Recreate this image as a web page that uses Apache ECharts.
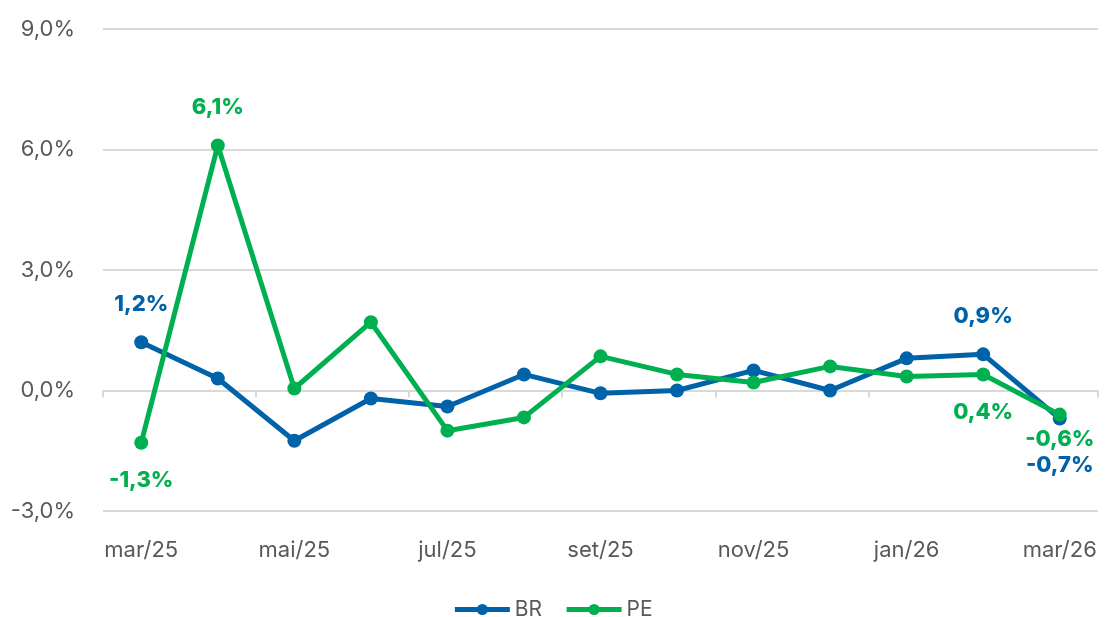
<!DOCTYPE html>
<html>
<head>
<meta charset="utf-8">
<script src="https://cdn.jsdelivr.net/npm/echarts@6/dist/echarts.min.js"></script>
<style>
  html, body { margin: 0; padding: 0; background: #fff; }
  #chart { width: 1105px; height: 617px; }
</style>
</head>
<body>
<div id="chart"></div>
<script>
var months = ['mar/25', 'abr/25', 'mai/25', 'jun/25', 'jul/25', 'ago/25', 'set/25',
    'out/25', 'nov/25', 'dez/25', 'jan/26', 'fev/26', 'mar/26'];
var brValues = [1.2, 0.3, -1.25, -0.2, -0.4, 0.4, -0.07, 0.0, 0.5, 0.0, 0.8, 0.9, -0.7];
var peValues = [-1.3, 6.1, 0.05, 1.7, -1.0, -0.67, 0.85, 0.4, 0.2, 0.6, 0.35, 0.4, -0.6];
// indices that show a value label, and where
var brLabels = { 0: 'top', 11: 'top', 12: 'bottom' };
var peLabels = { 0: 'bottom', 1: 'top', 11: 'bottom', 12: 'bottom' };

var BLUE = '#0062a8';
var GREEN = '#00b050';
var FONT = 'Inter, "Noto Sans", sans-serif';

function fmt(v) {
    return v.toFixed(1).replace('.', ',') + '%';
}

function buildData(values, labels, color, offsets) {
    return values.map(function (v, i) {
        var item = { value: v };
        if (labels[i]) {
            item.label = {
                show: true,
                position: labels[i],
                distance: offsets[i] || 18,
                color: color,
                fontFamily: FONT,
                fontWeight: 800,
                fontSize: 22,
                formatter: function (p) { return fmt(p.value); }
            };
        }
        return item;
    });
}

var chart = echarts.init(document.getElementById('chart'));

chart.setOption({
    animation: false,
    grid: { left: 103, right: 7, top: 29, bottom: 106, containLabel: false },
    legend: {
        top: 594,
        left: 'center',
        itemWidth: 55,
        itemHeight: 14,
        itemGap: 22,
        lineStyle: { width: 5 },
        textStyle: { color: '#595959', fontSize: 21, fontFamily: FONT },
        data: ['BR', 'PE']
    },
    xAxis: [{
        type: 'category',
        data: months,
        boundaryGap: true,
        axisLine: { show: false, onZero: false },
        axisTick: { show: false },
        axisLabel: { interval: 1, color: '#595959', fontSize: 22, fontFamily: FONT, margin: 28 },
        splitLine: { show: false }
    }, {
        type: 'category',
        data: months,
        position: 'bottom',
        boundaryGap: true,
        axisLine: { show: true, onZero: true, lineStyle: { color: '#d9d9d9', width: 2 } },
        axisTick: { show: true, interval: 1, length: 7, lineStyle: { color: '#d9d9d9', width: 2 } },
        axisLabel: { show: false }
    }],
    yAxis: {
        type: 'value',
        min: -3,
        max: 9,
        interval: 3,
        axisLine: { show: false },
        axisTick: { show: false },
        axisLabel: {
            color: '#595959', fontSize: 22, fontFamily: FONT, margin: 28,
            formatter: function (v) { return fmt(v); }
        },
        splitLine: { lineStyle: { color: '#d9d9d9', width: 2 } }
    },
    series: [{
        name: 'BR',
        type: 'line',
        xAxisIndex: 0,
        data: buildData(brValues, brLabels, BLUE, { 0: 20, 11: 20, 12: 29 }),
        color: BLUE,
        symbol: 'circle',
        symbolSize: 14,
        lineStyle: { width: 5, color: BLUE },
        itemStyle: { color: BLUE },
        z: 2
    }, {
        name: 'PE',
        type: 'line',
        xAxisIndex: 0,
        data: buildData(peValues, peLabels, GREEN, { 0: 20, 1: 20, 11: 20, 12: 7 }),
        color: GREEN,
        symbol: 'circle',
        symbolSize: 14,
        lineStyle: { width: 5, color: GREEN },
        itemStyle: { color: GREEN },
        z: 3
    }]
});
</script>
</body>
</html>
